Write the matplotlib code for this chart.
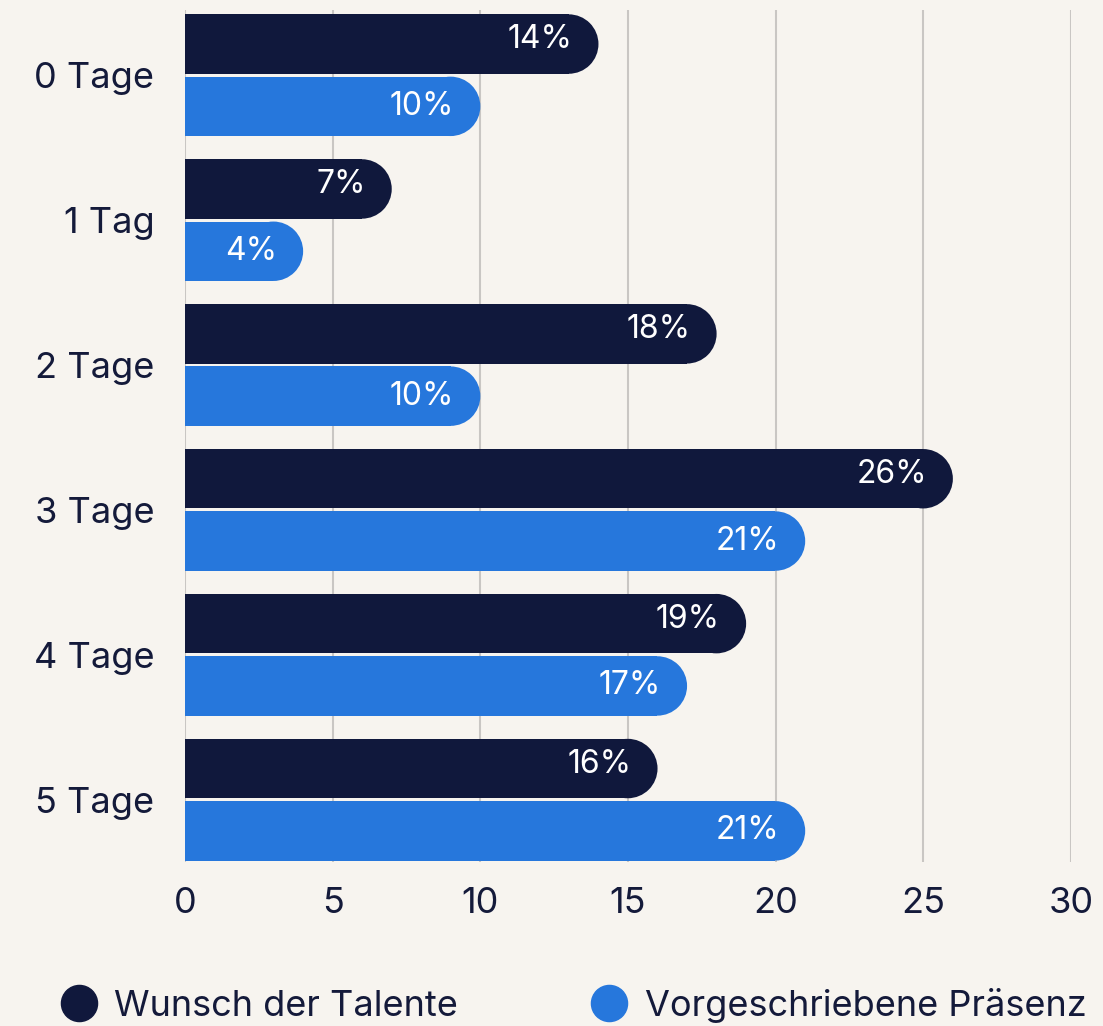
import matplotlib
matplotlib.use('Agg')
import matplotlib.pyplot as plt
from matplotlib.patches import Ellipse
from matplotlib.lines import Line2D
import numpy as np

# Data
categories = ['0 Tage', '1 Tag', '2 Tage', '3 Tage', '4 Tage', '5 Tage']
wunsch = [14, 7, 18, 26, 19, 16]
praesenz = [10, 4, 10, 21, 17, 21]
series_names = ['Wunsch der Talente', 'Vorgeschriebene Präsenz']
x_ticks = [0, 5, 10, 15, 20, 25, 30]

# Styles
bg = '#f7f4ef'
dark = '#10183c'
blue = '#2677dc'
text_col = '#141a3a'
grid_col = '#c9c6c3'

plt.rcParams['font.family'] = ['Inter', 'DejaVu Sans']

fig = plt.figure(figsize=(11.03, 10.26), dpi=100, facecolor=bg)
ax = fig.add_axes([185 / 1103, 1 - 862 / 1026, 886 / 1103, 852 / 1026])
ax.set_facecolor(bg)

ax.set_xlim(0, 30)
ax.set_ylim(5.43, -0.45)

bar_h = 0.41
offset = 0.215

# pixel scale so the round caps come out circular
fig_w, fig_h = fig.get_size_inches() * fig.dpi
ax_pos = ax.get_position()
px_x = ax_pos.width * fig_w / 30
px_y = ax_pos.height * fig_h / (5.43 + 0.45)
rx = (bar_h / 2) * px_y / px_x

y = np.arange(len(categories))


def rounded_bars(ys, vals, color, label_dy):
    for yy, v in zip(ys, vals):
        ax.barh(yy, v - rx, height=bar_h, color=color, zorder=3, linewidth=0)
        ax.add_patch(Ellipse((v - rx, yy), 2 * rx, bar_h, color=color,
                             zorder=3, linewidth=0))
        ax.text(v - 0.88, yy + label_dy, f'{v}%', ha='right', va='center',
                color='white', fontsize=23, zorder=4)


rounded_bars(y - offset, wunsch, dark, -0.03)
rounded_bars(y + offset, praesenz, blue, 0.0)

ax.set_xticks(x_ticks)
ax.set_xticklabels([str(t) for t in x_ticks])
ax.set_yticks(y)
ax.set_yticklabels(categories)
ax.tick_params(axis='both', length=0, labelsize=26, colors=text_col)
ax.tick_params(axis='x', pad=18)
ax.tick_params(axis='y', pad=22)

ax.grid(axis='x', color=grid_col, linewidth=1.5)
ax.grid(axis='y', visible=False)
ax.set_axisbelow(True)
for s in ax.spines.values():
    s.set_visible(False)

handles = [Line2D([], [], marker='o', linestyle='none', markersize=26,
                  markerfacecolor=c, markeredgecolor=c) for c in (dark, blue)]
fig.legend(handles, series_names, loc='center', bbox_to_anchor=(0.52, 0.02),
           ncol=2, frameon=False, fontsize=26, labelcolor=text_col,
           handletextpad=0.47, columnspacing=3.7, handlelength=1.0,
           borderpad=0.0, borderaxespad=0.0)

fig.savefig('out.png', dpi=100, facecolor=bg)
